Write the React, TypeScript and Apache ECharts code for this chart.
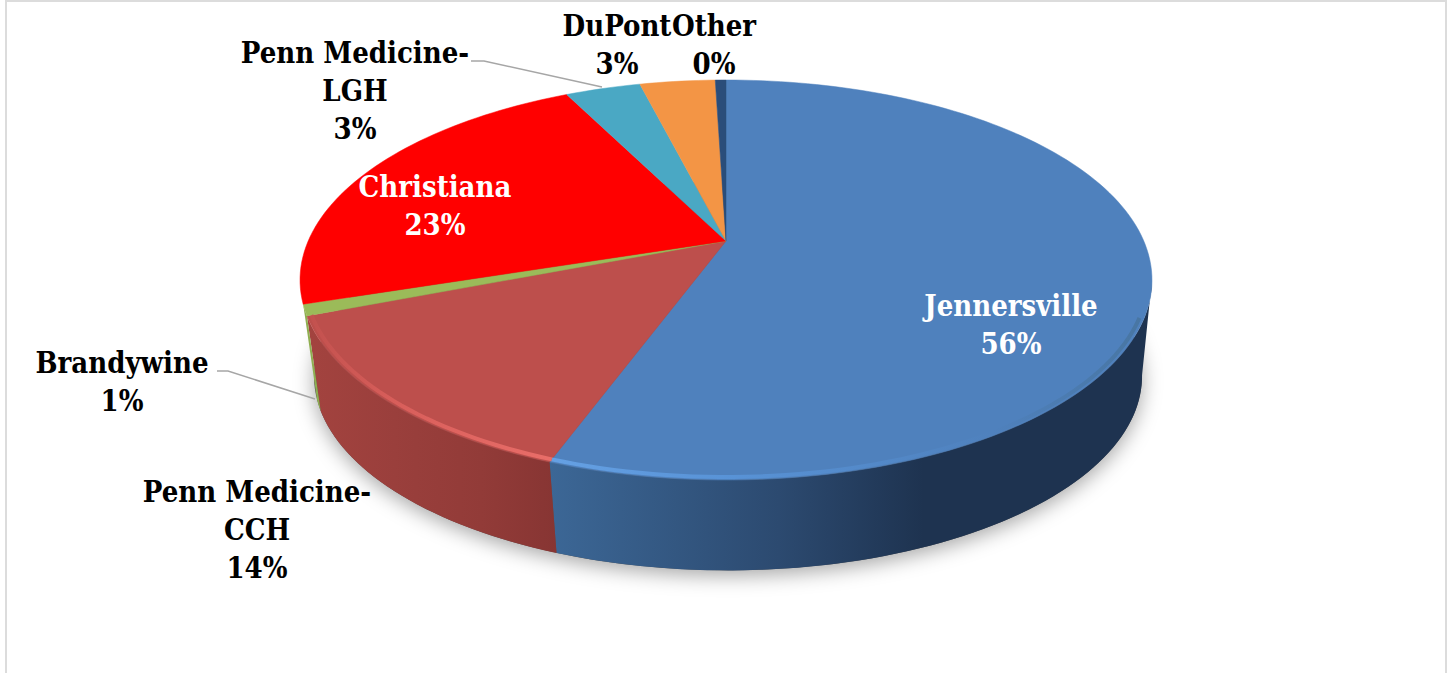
import React, { useEffect, useRef } from "react";
import * as echarts from "echarts";

const categories = ["Jennersville", "Penn Medicine-\nCCH", "Brandywine", "Christiana", "Penn Medicine-\nLGH", "DuPont", "Other"];
const shares = [55.6, 13.5, 0.9, 22.6, 3.45, 3.45, 0.49];
const topColors = ["#4f81bd", "#bd4f4c", "#9bbb59", "#ff0000", "#4aa8c4", "#f39545", "#2a4d7a"];
const wallColors: string[][] = [
  ["#3c6796", "#2c4a70", "#1e3350", "#1e3350"],
  ["#a3433f", "#9a3f3c", "#923b38", "#873533"],
  ["#8fae50", "#8fae50", "#8fae50", "#8fae50"],
  ["#c00000", "#c00000", "#c00000", "#c00000"],
  ["#2f7f96", "#2f7f96", "#2f7f96", "#2f7f96"],
  ["#b86e2c", "#b86e2c", "#b86e2c", "#b86e2c"],
  ["#1e3350", "#1e3350", "#1e3350", "#1e3350"],
];
const labelColors = ["#ffffff", "#000000", "#000000", "#ffffff", "#000000", "#000000", "#000000"];
const labelCenters = [[1011, 325], [257, 530], [122, 382], [435, 206], [355, 91], [617, 45], [714, 45]];
const leaderLines: number[][][] = [
  [[471, 61], [484, 61], [602, 87]],
  [[217, 371], [228, 371], [315, 399]],
];

// projection of the pie's circle
const APEX = [726, 241];
const A = 145.4, C = -0.195, D = 417.8;
const top = (deg: number, r = 1): number[] => {
  const t = (deg * Math.PI) / 180;
  const X = Math.sin(t) * r, Y = -Math.cos(t) * r;
  const w = 1 + C * Y;
  return [APEX[0] + (D * X) / w, (A * Y + APEX[1]) / w];
};
const bottom = (p: number[]): number[] => [728 + (p[0] - 726) * 0.972, 280 + (p[1] - 280) * 0.972 + 96];
const arc = (a: number, b: number, r = 1): number[][] => {
  const n = Math.max(2, Math.ceil(Math.abs(b - a) / 1.5));
  const out: number[][] = [];
  for (let i = 0; i <= n; i++) out.push(top(a + ((b - a) * i) / n, r));
  return out;
};

const total = shares.reduce((s, v) => s + v, 0);
let acc = 0;
const sliceData = shares.map((v, i) => {
  const start = (acc / total) * 360;
  acc += v;
  return [start, (acc / total) * 360, i];
});

const WALL_FROM = 101, WALL_TO = 252;

const App = () => {
  const ref = useRef<HTMLDivElement>(null);
  useEffect(() => {
    document.body.style.margin = "0";
    const chart = echarts.init(ref.current!, undefined, { renderer: "svg" });
    const font = 'bold 29px "DejaVu Serif Condensed", "DejaVu Serif", serif';
    chart.setOption({
      animation: false,
      backgroundColor: "#ffffff",
      graphic: [
        { type: "rect", silent: true, z: 0, shape: { x: 6, y: 1, width: 1440, height: 700 }, style: { fill: "none", stroke: "#dcdcdc", lineWidth: 2 } },
        ...leaderLines.map((pts) => ({ type: "polyline", z: 20, silent: true, shape: { points: pts }, style: { fill: "none", stroke: "#a6a6a6", lineWidth: 1.5 } })),
        ...categories.map((c, i) => ({
          type: "text", z: 30, silent: true,
          style: {
            text: `${c}\n${Math.round(shares[i])}%`,
            x: labelCenters[i][0], y: labelCenters[i][1],
            align: "center", verticalAlign: "middle", lineHeight: 38,
            fill: labelColors[i], font,
          },
        })),
      ],
      series: [
        {
          type: "custom", coordinateSystem: "none", silent: true, z: 2, clip: false, data: [[0]],
          renderItem: () => {
            const pts = arc(0, 360).map(bottom);
            return {
              type: "polygon", shape: { points: pts },
              style: { fill: "#555555", shadowBlur: 20, shadowColor: "rgba(0,0,0,0.35)", shadowOffsetY: 5 },
            };
          },
        },
        {
          type: "custom", coordinateSystem: "none", silent: true, z: 3, clip: false, data: sliceData,
          renderItem: (_p: any, api: any) => {
            const s = api.value(0), e = api.value(1), i = api.value(2);
            const a = Math.max(s, WALL_FROM), b = Math.min(e, WALL_TO);
            if (b <= a) return { type: "group", children: [] };
            const upper = arc(a, b);
            const lower = upper.map(bottom).reverse();
            const cs = wallColors[i];
            return {
              type: "polygon", shape: { points: [...upper, ...lower] },
              style: {
                fill: new echarts.graphic.LinearGradient(0, 0, 1, 0, i === 0
                  ? [{ offset: 0, color: cs[0] }, { offset: 0.38, color: cs[1] }, { offset: 0.62, color: cs[2] }, { offset: 1, color: cs[3] }]
                  : [{ offset: 0, color: cs[0] }, { offset: 0.35, color: cs[1] }, { offset: 0.7, color: cs[2] }, { offset: 1, color: cs[3] }]),
              },
            };
          },
        },
        {
          type: "custom", coordinateSystem: "none", silent: true, z: 4, clip: false, data: sliceData,
          renderItem: (_p: any, api: any) => {
            const s = api.value(0), e = api.value(1), i = api.value(2);
            return {
              type: "polygon", shape: { points: [APEX, ...arc(s, e)] },
              style: { fill: topColors[i], stroke: topColors[i], lineWidth: 0.5 },
            };
          },
        },
        {
          type: "custom", coordinateSystem: "none", silent: true, z: 5, clip: false, data: sliceData,
          renderItem: (_p: any, api: any) => {
            const i = api.value(2);
            if (i > 1) return { type: "group", children: [] };
            const s = api.value(0), e = api.value(1);
            const a = Math.max(s, i === 0 ? 112 : s), b = Math.min(e, WALL_TO);
            return {
              type: "polyline", shape: { points: arc(a, b, 0.99) },
              style: {
                fill: "none", lineWidth: 4, opacity: 0.85,
                stroke: new echarts.graphic.LinearGradient(0, 0, 1, 0, i === 0
                  ? [{ offset: 0, color: "#69a6ea" }, { offset: 0.3, color: "#5a96db" }, { offset: 0.75, color: "#4f81bd" }, { offset: 1, color: "#47749f" }]
                  : [{ offset: 0, color: "#c4524f" }, { offset: 0.35, color: "#dd615d" }, { offset: 1, color: "#f0736e" }]),
              },
            };
          },
        },
      ],
    });
    return () => chart.dispose();
  }, []);
  return <div ref={ref} style={{ position: "fixed", left: 0, top: 0, width: 1449, height: 673 }} />;
};

export default App;
